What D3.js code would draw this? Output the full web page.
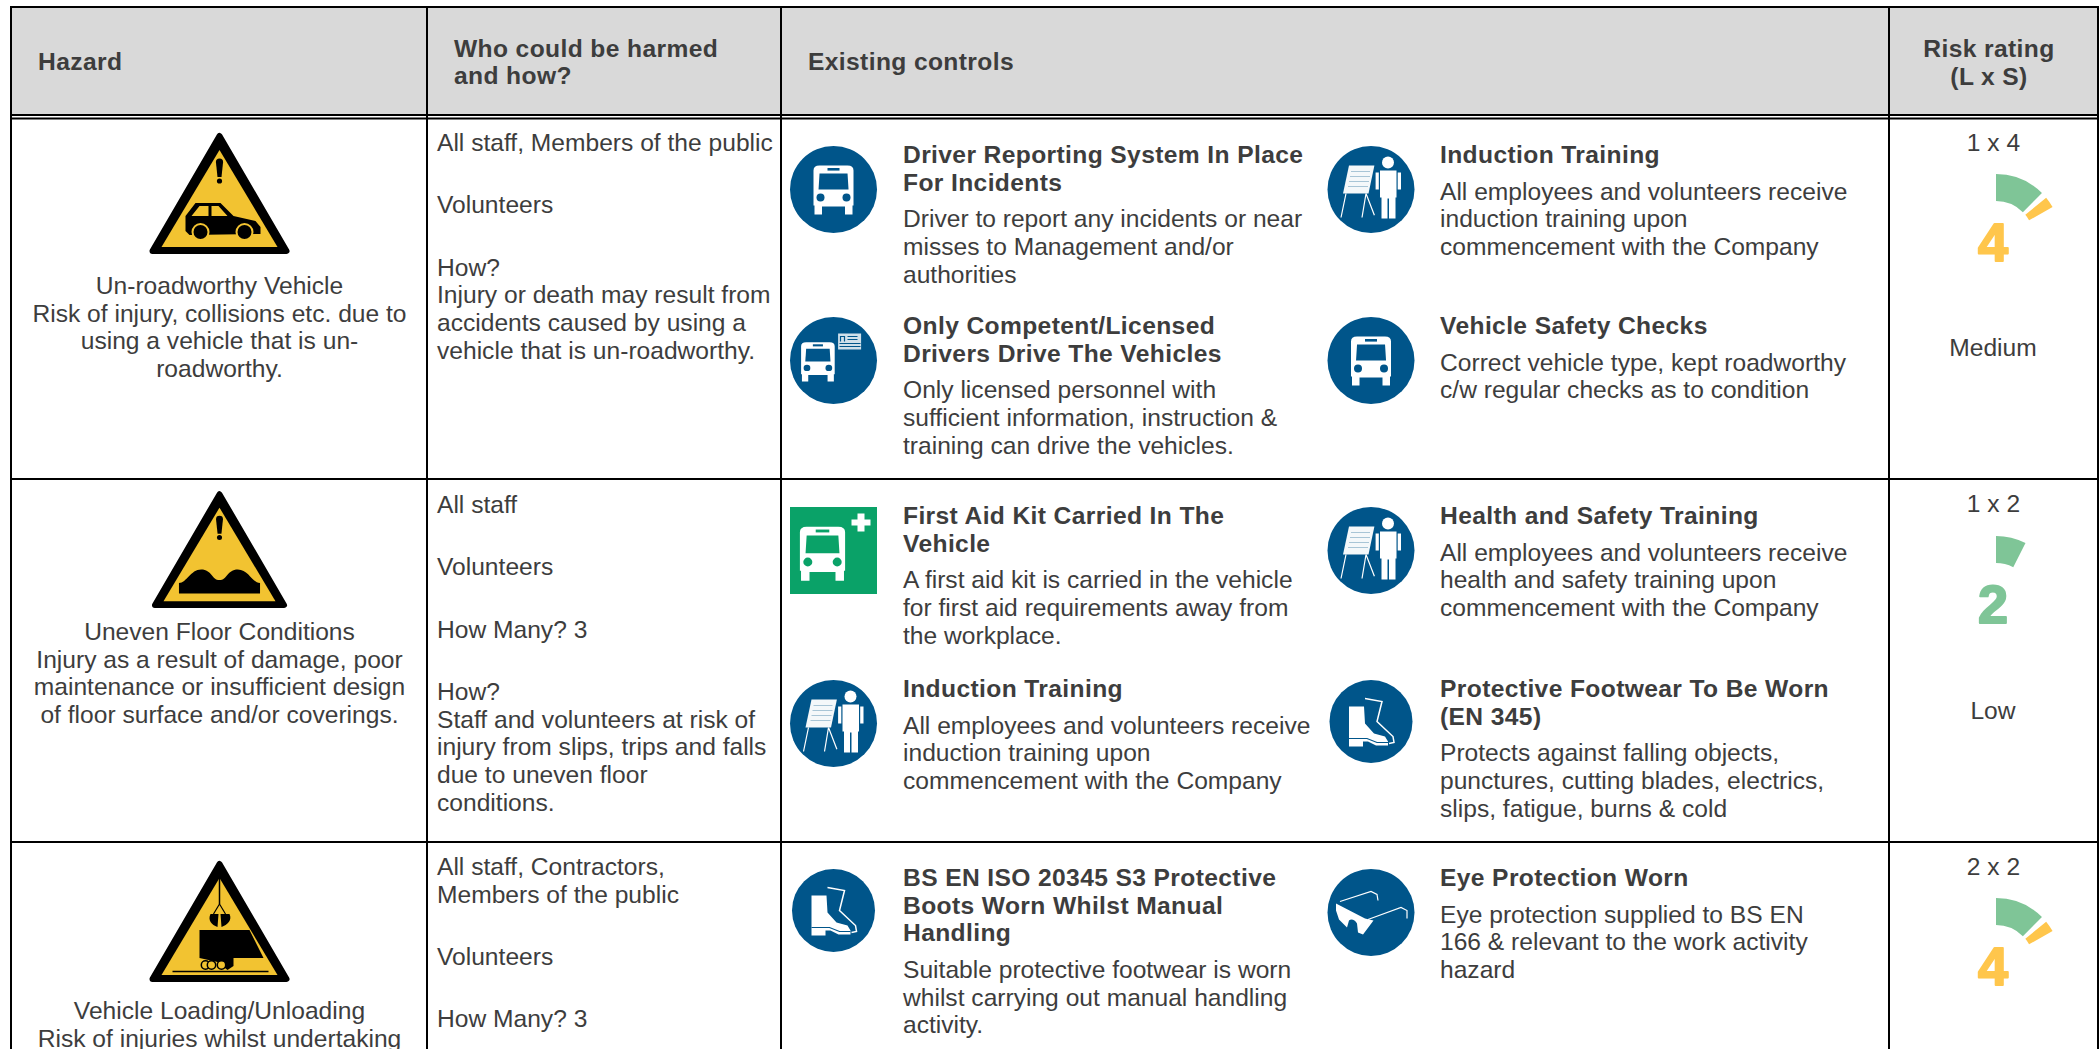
<!DOCTYPE html>
<html>
<head>
<meta charset="utf-8">
<script src="https://cdn.jsdelivr.net/npm/d3@7"></script>
<style>
    html, body { margin: 0; padding: 0; background: #fff; overflow: hidden; }
    text { font-family: "Liberation Sans", Arial, sans-serif; fill: #3d3d3d; }
</style>
</head>
<body>
<svg id="chart" width="2100" height="1049"></svg>
<script>
// table content
const headers = [
    { lines: ["Hazard"], col: 0 },
    { lines: ["Who could be harmed", "and how?"], col: 1 },
    { lines: ["Existing controls"], col: 2 },
    { lines: ["Risk rating", "(L x S)"], col: 3 }
];
const hazardSigns = ["car", "floor", "load"];
const hazardText = [
    ["Un-roadworthy Vehicle", "Risk of injury, collisions etc. due to", "using a vehicle that is un-", "roadworthy."],
    ["Uneven Floor Conditions", "Injury as a result of damage, poor", "maintenance or insufficient design", "of floor surface and/or coverings."],
    ["Vehicle Loading/Unloading", "Risk of injuries whilst undertaking"]
];
const whoText = [
    ["All staff, Members of the public", "", "Volunteers", "", "How?", "Injury or death may result from", "accidents caused by using a", "vehicle that is un-roadworthy."],
    ["All staff", "", "Volunteers", "", "How Many? 3", "", "How?", "Staff and volunteers at risk of", "injury from slips, trips and falls", "due to uneven floor", "conditions."],
    ["All staff, Contractors,", "Members of the public", "", "Volunteers", "", "How Many? 3"]
];
const controls = [
    [
        { icon: "bus", title: ["Driver Reporting System In Place", "For Incidents"], body: ["Driver to report any incidents or near", "misses to Management and/or", "authorities"] },
        { icon: "training", title: ["Induction Training"], body: ["All employees and volunteers receive", "induction training upon", "commencement with the Company"] },
        { icon: "card", title: ["Only Competent/Licensed", "Drivers Drive The Vehicles"], body: ["Only licensed personnel with", "sufficient information, instruction &", "training can drive the vehicles."] },
        { icon: "bus", title: ["Vehicle Safety Checks"], body: ["Correct vehicle type, kept roadworthy", "c/w regular checks as to condition"] }
    ],
    [
        { icon: "aid", title: ["First Aid Kit Carried In The", "Vehicle"], body: ["A first aid kit is carried in the vehicle", "for first aid requirements away from", "the workplace."] },
        { icon: "training", title: ["Health and Safety Training"], body: ["All employees and volunteers receive", "health and safety training upon", "commencement with the Company"] },
        { icon: "training", title: ["Induction Training"], body: ["All employees and volunteers receive", "induction training upon", "commencement with the Company"] },
        { icon: "boot", title: ["Protective Footwear To Be Worn", "(EN 345)"], body: ["Protects against falling objects,", "punctures, cutting blades, electrics,", "slips, fatigue, burns & cold"] }
    ],
    [
        { icon: "boot", title: ["BS EN ISO 20345 S3 Protective", "Boots Worn Whilst Manual", "Handling"], body: ["Suitable protective footwear is worn", "whilst carrying out manual handling", "activity."] },
        { icon: "goggles", title: ["Eye Protection Worn"], body: ["Eye protection supplied to BS EN", "166 & relevant to the work activity", "hazard"] }
    ]
];
const ratingLabels = ["1 x 4", "1 x 2", "2 x 2"];
const ratingScores = [4, 2, 4];
const ratingLevels = ["Medium", "Low", ""];

// layout
const colX = [11, 427, 781, 1889, 2099];
const controlRows = [[163, 334], [524, 697], [886]];
const bodyFont = 24.6, titleSpacing = 0.38, lineH = 27.7, gapH = 34.6;
const blue = "#00558a", sign = "#f2c331", green = "#7fc597", amber = "#ffc64c";

const svg = d3.select("#chart");

function textLines(g, lines, x, y, opts = {}) {
    g.selectAll(null).data(lines.filter(d => d !== "")).join("text")
        .attr("x", x)
        .attr("y", (d, i) => y + i * lineH)
        .attr("text-anchor", opts.anchor || "start")
        .attr("font-size", opts.size || bodyFont)
        .attr("font-weight", opts.bold ? "bold" : "normal")
        .attr("letter-spacing", opts.bold ? titleSpacing : 0)
        .text(d => d);
}

// header band and grid
svg.append("rect").attr("x", colX[0]).attr("y", 7).attr("width", colX[4] - colX[0]).attr("height", 108).attr("fill", "#d9d9d9");

const grid = svg.append("g").attr("stroke", "#000").attr("stroke-width", 2);
grid.selectAll("line.v").data(colX).join("line").attr("class", "v")
    .attr("x1", d => d === 2099 ? d - 1 : d).attr("x2", d => d === 2099 ? d - 1 : d).attr("y1", 6).attr("y2", 1049);
grid.selectAll("line.h").data([7, 115, 118.5, 479, 842]).join("line").attr("class", "h")
    .attr("x1", colX[0]).attr("x2", colX[4]).attr("y1", d => d).attr("y2", d => d);

// header text
const headG = svg.append("g");
textLines(headG, ["Hazard"], 38, 70, { bold: true });
textLines(headG, headers[1].lines, 454, 56.5, { bold: true });
textLines(headG, ["Existing controls"], 808, 70, { bold: true });
textLines(headG, headers[3].lines, 1989, 57, { bold: true, anchor: "middle" });

// hazard signs, drawn from the middle of the base line
const signDraw = {
    car(g) {
        g.append("path").attr("fill", "#000").attr("d", "M-34,-23 L-34,-38 L-24,-51 L1,-51 L14,-38 L36,-33 L41,-27 L41,-20 L-30,-19 Z");
        g.append("path").attr("fill", sign).attr("d", "M-20,-48 L-11,-48 L-11,-38 L-28,-38 Z M-8,-48 L-1,-48 L8,-38 L-8,-38 Z");
        g.selectAll(null).data([-19, 25]).join("circle").attr("cx", d => d).attr("cy", -22).attr("r", 8).attr("fill", "#000").attr("stroke", sign).attr("stroke-width", 2);
    },
    floor(g) {
        g.append("path").attr("fill", "#000").attr("d", "M-42,-15 L-42,-26 C-34,-26 -30,-40 -19,-40 C-8,-40 -8,-29 0,-29 C8,-29 8,-40 19,-40 C30,-40 34,-26 42,-26 L42,-15 Z");
    },
    load(g) {
        g.append("line").attr("y1", -104).attr("y2", -78).attr("stroke", "#000").attr("stroke-width", 1.5);
        g.append("path").attr("fill", "none").attr("stroke", "#000").attr("stroke-width", 1.2).attr("d", "M0,-78 L-6,-68 M0,-78 L6,-68");
        g.append("path").attr("fill", "#000").attr("d", "M-1,-68 L-9,-68 C-12,-62 -8,-57 -2,-55 Z M1,-68 L10,-68 C13,-62 8,-57 2,-55 Z");
        g.append("path").attr("fill", "#000").attr("d", "M-20,-52 L30,-52 L44,-24 L14,-24 L14,-16 L8,-12 L-2,-20 L-20,-24 Z");
        g.selectAll(null).data([-14, -8, 2]).join("circle").attr("cx", d => d).attr("cy", -17).attr("r", 4.2).attr("fill", sign).attr("stroke", "#000").attr("stroke-width", 1.5);
        g.append("line").attr("x1", -47).attr("x2", 49).attr("y1", -10.5).attr("y2", -10.5).attr("stroke", "#000").attr("stroke-width", 1.4);
    }
};

function drawSign(kind, x, y, s) {
    const g = svg.append("g").attr("transform", `translate(${x},${y}) scale(${s})`);
    g.append("path").attr("d", "M0,-118 L67,-3 L-67,-3 Z").attr("fill", "#000").attr("stroke", "#000").attr("stroke-width", 6).attr("stroke-linejoin", "round");
    g.append("path").attr("d", "M0,-104 L58,-7 L-58,-7 Z").attr("fill", sign);
    if (kind !== "load") {
        g.append("path").attr("fill", "#000").attr("d", "M-3.6,-92 A3.6,3.6 0 0 1 3.6,-92 L2,-77 L-2,-77 Z");
        g.append("circle").attr("cy", -73).attr("r", 2.6).attr("fill", "#000");
    }
    signDraw[kind](g);
}

const signPos = [[219.5, 254, 1], [219.5, 608, 0.965], [219.5, 982, 1]];
hazardSigns.forEach((k, i) => drawSign(k, signPos[i][0], signPos[i][1], signPos[i][2]));

// hazard and who columns
const hazardBase = [294, 640, 1019];
hazardText.forEach((lines, i) => textLines(svg.append("g"), lines, 219.5, hazardBase[i], { anchor: "middle" }));

const whoBase = [151, 513, 875];
whoText.forEach((lines, i) => {
    let y = whoBase[i];
    lines.forEach(line => {
        if (line === "") { y += gapH; return; }
        textLines(svg.append("g"), [line], 437, y);
        y += lineH;
    });
});

// icons, drawn from the centre of the image
function busShape(g, fill, hole) {
    g.append("path").attr("fill", fill).attr("d", "M-19,25 L-19,16 L-20,16 L-20,-19 Q-20,-24 -14,-24 L14,-24 Q20,-24 20,-19 L20,16 L19,16 L19,25 L11.5,25 L11.5,17 L-11.5,17 L-11.5,25 Z");
    g.append("path").attr("fill", hole).attr("d", "M-14,-16 L14,-16 L15,0 L-15,0 Z");
    g.append("rect").attr("x", -6).attr("y", -21.5).attr("width", 12).attr("height", 2.6).attr("fill", hole);
    g.selectAll(null).data([-13, 13]).join("circle").attr("cx", d => d).attr("cy", 8).attr("r", 4).attr("fill", hole);
}

const iconDraw = {
    bus(g) { busShape(g, "#fff", blue); },
    card(g) {
        busShape(g.append("g").attr("transform", "translate(-15.6,1) scale(0.84,0.8)"), "#fff", blue);
        g.append("rect").attr("x", 4.6).attr("y", -27).attr("width", 23).attr("height", 16).attr("fill", "#cfe0ea");
        g.append("path").attr("stroke", blue).attr("stroke-width", 1.2).attr("fill", "none").attr("d", "M7,-19 L7,-24 L11,-24 L11,-19 M14,-24 L24,-24 M14,-21 L24,-21 M6,-17 L27,-17 M6,-14 L27,-14");
    },
    training(g) {
        g.append("path").attr("fill", "#f4f8fa").attr("d", "M-22,-24 L3.4,-24 L-2.5,4 L-28,4 Z");
        g.append("path").attr("stroke", "#a8c5d6").attr("stroke-width", 1.2).attr("d", "M-20,-18 L-1,-18 M-21,-13 L-1,-13 M-22,-8 L-2,-8 M-23,-3 L-3,-3");
        g.append("path").attr("stroke", "#fff").attr("stroke-width", 1.2).attr("fill", "none").attr("d", "M-25,4 L-30,28 M-5,4 L-9,28 M-5,4 L3.4,25.7");
        g.append("circle").attr("cx", 17).attr("cy", -27).attr("r", 6).attr("fill", "#fff");
        g.append("path").attr("fill", "#fff").attr("d", "M9,-19 L25.5,-19 L25.5,8 L24.5,8 L24.5,29 L18,29 L18,9 L16.5,9 L16.5,29 L10.5,29 L10.5,8 L9,8 Z");
        g.append("path").attr("fill", "#fff").attr("d", "M4.6,-17 L7.8,-17 L7.8,0 L4.6,0 Z M26.7,-17 L30,-17 L30,0 L26.7,0 Z");
    },
    aid(g) {
        busShape(g.append("g").attr("transform", "translate(-11,2.7) scale(1.13,1.1)"), "#fff", "#0aa268");
        g.append("path").attr("fill", "#fff").attr("d", "M24,-37 L31,-37 L31,-31 L37,-31 L37,-25 L31,-25 L31,-19 L24,-19 L24,-25 L18,-25 L18,-31 L24,-31 Z");
    },
    boot(g) {
        g.append("path").attr("fill", "#fff").attr("d", "M-22,-15 L-7,-15 L-6,2 L3,12 L14,15 L17,20 L17,24 L5,24 L-3,20 L-8,20 L-8,25 L-22,25 Z");
        g.append("path").attr("stroke", blue).attr("stroke-width", 1.2).attr("fill", "none").attr("d", "M-22,17 L-4,17 L6,21 L17,21");
        g.append("path").attr("stroke", "#fff").attr("stroke-width", 1.5).attr("fill", "none").attr("d", "M-6,-23 L11,-20 L6,0 L22,15 L23,21 L18,22");
    },
    goggles(g) {
        g.append("path").attr("fill", "#fff").attr("d", "M-35,-9 L-6,6 L2.5,8 L-8,22 L-13,20 L-14,11 C-16,7 -20,6 -22,8 L-24,15 L-32,7 L-35,-2 Z");
        g.append("path").attr("stroke", "#fff").attr("stroke-width", 1.2).attr("fill", "none").attr("d", "M-31,-11 L0,-21 L6,-18 L7,-12 M-3,7 L30,-5 L36,-2 L36,6");
    }
};

function drawIcon(kind, x, top) {
    const small = kind === "boot";
    const r = small ? 41.5 : 43.5;
    const g = svg.append("g").attr("transform", `translate(${x},${top + r})`);
    if (kind === "aid") {
        g.append("rect").attr("x", -r).attr("y", -r).attr("width", 2 * r).attr("height", 2 * r).attr("fill", "#0aa268");
    } else {
        g.append("circle").attr("r", r).attr("fill", blue);
    }
    iconDraw[kind](g);
}

// existing controls, two blocks per line
const blockX = [[833.5, 903], [1371, 1440]];
controls.forEach((blocks, r) => {
    blocks.forEach((b, i) => {
        const side = blockX[i % 2];
        const base = controlRows[r][Math.floor(i / 2)];
        drawIcon(b.icon, side[0], base - 17);
        const g = svg.append("g");
        textLines(g, b.title, side[1], base, { bold: true });
        textLines(g, b.body, side[1], base + (b.title.length - 1) * lineH + 36.5);
    });
});

// risk gauges: score along the dial in degrees
const angle = d3.scaleLinear().domain([0, 2, 3, 4]).range([0, 27, 45, 60.5]);
const rad = d => d * Math.PI / 180;
const arc = d3.arc().innerRadius(38).outerRadius(65);
const gaugeMid = [239, 601, 963];
const scoreColor = d3.scaleThreshold().domain([3]).range([green, amber]);

ratingScores.forEach((score, i) => {
    const g = svg.append("g").attr("transform", `translate(1996,${gaugeMid[i]})`);
    g.append("path").attr("fill", green).attr("d", arc({ startAngle: 0, endAngle: rad(angle(Math.min(score, 3))) }));
    if (score > 3) {
        g.append("path").attr("fill", amber).attr("d", arc({ startAngle: rad(50.5), endAngle: rad(angle(score)) }));
    }
    g.append("text").attr("x", -3).attr("y", 22).attr("text-anchor", "middle")
        .attr("font-size", 54).attr("font-weight", "bold")
        .attr("stroke", scoreColor(score)).attr("stroke-width", 2).attr("stroke-linejoin", "round")
        .style("fill", scoreColor(score)).text(score);
    textLines(svg.append("g"), [ratingLabels[i]], 1993.5, [151, 512, 875][i], { anchor: "middle" });
    if (ratingLevels[i]) {
        textLines(svg.append("g"), [ratingLevels[i]], 1993, [356, 719][i], { anchor: "middle" });
    }
});
</script>
</body>
</html>
